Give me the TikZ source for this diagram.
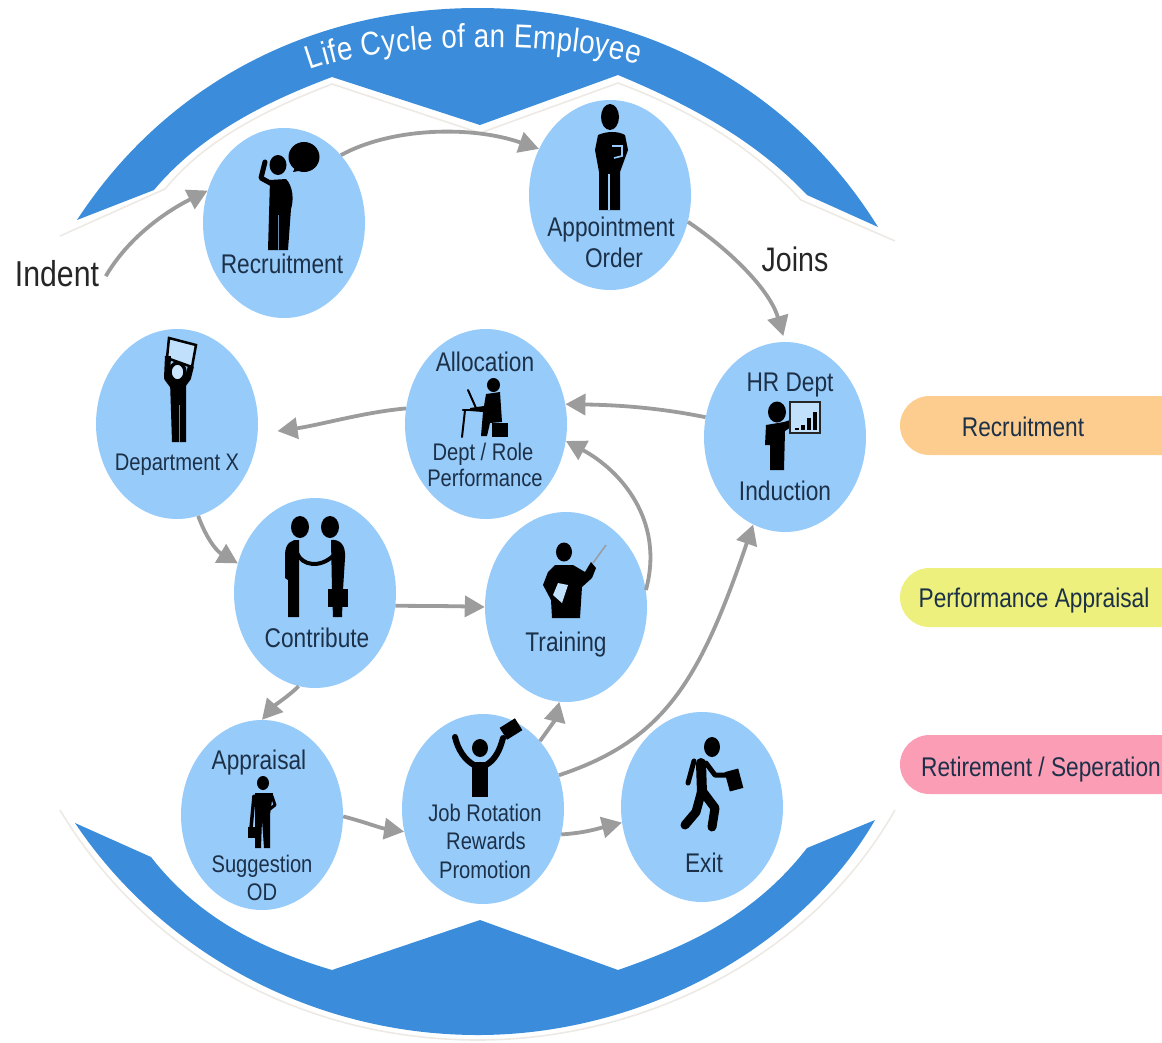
\documentclass[tikz,border=0pt]{standalone}
\usepackage{fontspec}
\setmainfont[FakeStretch=0.84]{Liberation Sans}
\usetikzlibrary{shapes.geometric,shapes.misc,arrows.meta,decorations.text}
\definecolor{arcblue}{HTML}{3B8DDC}
\definecolor{bubble}{HTML}{97CBFA}
\definecolor{ink}{HTML}{1C3048}
\definecolor{arrowgray}{HTML}{9C9C9C}
\definecolor{paleline}{HTML}{EDE9E4}
\definecolor{pillorange}{HTML}{FCCD8E}
\definecolor{pillyellow}{HTML}{EDF07C}
\definecolor{pillpink}{HTML}{FC9DB6}
\newcommand{\titlestyle}{\fontsize{33}{33}\selectfont\color{white}}
\tikzset{
  stage/.style={ellipse,fill=bubble,draw=none,minimum width=162pt,minimum height=190pt,inner sep=0pt},
  conn/.style={draw=arrowgray,line width=3.8pt,-{Triangle[length=20pt,width=21pt]}},
  lbl/.style={text=ink,inner sep=0pt,text height=19.4pt,text depth=0pt,font=\fontsize{27}{27}\selectfont},
  lblsmall/.style={text=ink,inner sep=0pt,text height=17.3pt,text depth=0pt,font=\fontsize{24}{24}\selectfont},
  big/.style={text=black!85,inner sep=0pt,font=\fontsize{34}{34}\selectfont},
  pill/.style={rounded rectangle,rounded rectangle right arc=none,draw=none,minimum width=262pt,minimum height=59pt,inner sep=0pt},
  solid/.style={fill=black,draw=none},
  limb/.style={draw=black,line cap=round,line join=round,line width=#1},
  limb/.default=6pt,
  band/.style={fill=arcblue,draw=none},
  edge line/.style={draw=paleline,line width=1.6pt}
}
\begin{document}
\begin{tikzpicture}[x=1pt,y=-1pt]
\useasboundingbox (0,0) rectangle (1162,1042);
% top band
\draw[edge line] (60,236) -- (165,189) .. controls (205,140) and (265,110) .. (332,84) -- (480,133) -- (618,83) .. controls (690,110) and (750,145) .. (801,200) -- (895,241);
\fill[band] (77,220) .. controls (165,85) and (310,8) .. (478,8) .. controls (640,8) and (790,85) .. (878,227)
  -- (807,195) .. controls (755,140) and (690,105) .. (618,75) -- (480,125) -- (332,77) .. controls (265,102) and (200,135) .. (154,190) -- cycle;
\path[postaction={decorate},decoration={text along path,text align={fit to path},text={|\titlestyle|Life Cycle of an Employee}}]
  (310,70) .. controls (378,44) and (552,38) .. (638,65);
% bottom band
\draw[edge line] (60,810) .. controls (150,960) and (310,1040) .. (478,1040) .. controls (640,1040) and (810,960) .. (895,810);
\fill[band] (75,823) -- (151,857) .. controls (200,920) and (265,950) .. (332,970) -- (480,920) -- (618,970) .. controls (690,945) and (755,915) .. (807,848) -- (875,820)
  .. controls (800,950) and (640,1035) .. (478,1035) .. controls (310,1035) and (160,950) .. (75,823) -- cycle;
% stages
\node[stage] (rec) at (284,223) {};
\node[stage] (app) at (610,195) {};
\node[stage] (hr) at (785,437) {};
\node[stage] (alloc) at (486,424) {};
\node[stage] (dept) at (177,424) {};
\node[stage] (contrib) at (315,593) {};
\node[stage] (train) at (566,607) {};
\node[stage] (appr) at (262,815) {};
\node[stage] (job) at (483,809) {};
\node[stage] (exit) at (702,807) {};
% free labels
\node[big,font=\fontsize{36}{36}\selectfont] (indent) at (57,274) {Indent};
\node[big] (joins) at (795,259) {Joins};
% connectors
\draw[conn,shorten <=13pt] (indent.south east) .. controls (128,238) and (165,212) .. (rec.157);
\draw[conn] (rec.50) .. controls (390,128) and (470,125) .. (app.147);
\draw[conn,shorten >=6pt] (app.-19) .. controls (730,250) and (770,290) .. (hr.north);
\draw[conn] (hr.166) .. controls (660,408) and (620,405) .. (alloc.14);
\draw[conn,shorten >=20pt] (alloc.169) .. controls (365,412) and (320,425) .. (dept.-7);
\draw[conn] (dept.-77) .. controls (205,535) and (215,550) .. (contrib.159);
\draw[conn] (contrib.-9) .. controls (425,606) and (450,606) .. (train.180);
\draw[conn] (contrib.-100) .. controls (290,695) and (275,705) .. (appr.north);
\draw[conn] (train.12) .. controls (665,520) and (620,470) .. (alloc.-12);
\draw[conn] (appr.-1) .. controls (365,822) and (380,828) .. (job.196);
\draw[conn] (job.50) .. controls (548,730) and (555,720) .. (train.-94);
\draw[conn] (job.24) .. controls (665,740) and (700,680) .. (hr.-110);
\draw[conn] (job.-18) .. controls (585,833) and (600,828) .. (exit.191);
% icon: recruitment
\fill[solid] (278,165) ellipse (8.5pt and 10pt);
\fill[solid] (304,157) ellipse (15.5pt and 15pt);
\fill[solid] (293,172) -- (297,163) -- (304,170) -- cycle;
\draw[limb=5pt] (265,162) -- (261,178) -- (272,184);
\fill[solid] (270,180) -- (286,179) .. controls (293,186) and (294,200) .. (291,209) -- (288,250) -- (268,250) -- cycle;
\draw[bubble!70!black,line width=1pt] (278,215) -- (278,250);
% icon: appointment
\fill[solid] (610,117) ellipse (9pt and 13pt);
\fill[solid] (598,135) .. controls (607,131) and (618,131) .. (625,135) -- (628,150) -- (620,172) -- (620,210) -- (599,210) -- (599,172) -- (595,150) -- cycle;
\draw[bubble,line width=1.6pt] (609,174) -- (609,210);
\draw[bubble,line width=1.6pt] (612,146) -- (622,146) -- (622,156) -- (614,158);
% icon: HR
\fill[solid] (777,412) ellipse (9pt and 10.5pt);
\fill[solid] (766,425) -- (784,422) -- (796,418) -- (797,423) -- (785,431) -- (784,470) -- (770,470) -- (770,445) -- (765,445) -- cycle;
\draw[line width=2.5pt,draw=black!85,fill=bubble!60] (790,402) rectangle (820,433);
\foreach \bx/\by in {797/428,803/425,809/418,815/412}{\fill[solid] (\bx-2,\by) rectangle (\bx+2,430);}
% icon: allocation
\fill[solid] (493.5,385) ellipse (6.5pt and 7pt);
\fill[solid] (486,394) -- (500,392) -- (502,422) -- (490,423) -- (487,436) -- (481,436) -- (483,412) -- (470,411) -- (470,408) -- (484,406) -- cycle;
\fill[solid] (492,423) rectangle (508,437);
\draw[limb=2pt] (468,390) -- (476,408);
\draw[limb=2.5pt] (463,410) -- (490,410);
\draw[limb=2pt] (465,410) -- (462,437);
% icon: department
\draw[line width=2.5pt,draw=black,fill=bubble!60] (169,338) -- (196,345) -- (192,367) -- (167,358) -- cycle;
\draw[limb=6pt,line cap=butt] (168,356) -- (167,378) -- (173,386);
\draw[limb=6pt,line cap=butt] (191,366) -- (188,378) -- (182,386);
\fill[solid] (170,381) -- (186,381) -- (186,442) -- (172,442) -- cycle;
\draw[line width=3.5pt,draw=black,fill=bubble!50] (177.5,372) ellipse (7.5pt and 9pt);
\draw[bubble!70!black,line width=1pt] (179,405) -- (179,442);
% icon: handshake
\fill[solid] (300,527) ellipse (9pt and 11pt);
\fill[solid] (330,527) ellipse (9pt and 11pt);
\fill[solid] (285,555) .. controls (285,543) and (292,539) .. (299,540) -- (299,617) -- (288,617) -- (288,580) -- (285,578) -- cycle;
\fill[solid] (331,540) .. controls (340,539) and (346,545) .. (345,558) -- (343,590) -- (342,617) -- (333,617) -- (332,590) -- cycle;
\draw[limb=4pt] (297,553) .. controls (302,566) and (320,568) .. (333,556);
\fill[solid] (327.5,589) rectangle (348,607);
% icon: training
\fill[solid] (564,552) ellipse (8pt and 9.5pt);
\draw[draw=arrowgray,line width=1.5pt] (593,563) -- (606,545);
\fill[solid] (555,565) -- (573,565) -- (585,572) -- (591,562) -- (596,568) -- (592,578) -- (582,587) -- (580,618) -- (552,618) -- (551,600) -- (543,585) -- (548,572) -- cycle;
\fill[bubble!60] (558,583) -- (568,585) -- (562,603) -- (553,595) -- cycle;
% icon: appraisal
\fill[solid] (263,783) ellipse (6pt and 7pt);
\fill[solid] (255,793) -- (273,793) -- (270,815) -- (270,848) -- (264,848) -- (262,820) -- (261,848) -- (255,848) -- cycle;
\draw[limb=3.5pt] (254,796) -- (251,828);
\draw[limb=3pt] (272,796) -- (275,805) -- (270,809);
\fill[solid] (248,827) rectangle (254.5,838);
% icon: job rotation
\fill[solid] (480,748) ellipse (8pt and 9pt);
\draw[limb=6pt] (455,737) .. controls (458,750) and (465,760) .. (474,765);
\draw[limb=6pt] (503,738) .. controls (500,750) and (495,760) .. (486,765);
\fill[solid] (472,762) rectangle (488,797);
\fill[solid,rotate around={32:(511,729)}] (502,722) rectangle (520,736);
% icon: exit
\fill[solid] (712,747) ellipse (8pt and 10pt);
\draw[limb=10pt] (701,763) -- (702,793);
\draw[limb=5pt] (694,761) -- (688,783);
\draw[limb=5pt] (706,763) -- (715,775) -- (727,775);
\draw[limb=9pt] (702,790) -- (696,812) -- (685,825);
\draw[limb=9pt] (703,792) -- (715,808) -- (712,827);
\fill[solid,rotate around={15:(734,780)}] (727,770) rectangle (741,790);
% stage labels
\node[lbl] (t1) at (282,264) {Recruitment};
\node[lbl] (t2) at (611,227) {Appointment};
\node[lbl] (t3) at (614,258) {Order};
\node[lbl] (t4) at (790,382) {HR Dept};
\node[lbl] (t5) at (785,491) {Induction};
\node[lbl] (t6) at (485,362) {Allocation};
\node[lblsmall] (t7) at (483,452) {Dept / Role};
\node[lblsmall] (t8) at (485,478) {Performance};
\node[lblsmall] (t9) at (177,462) {Department X};
\node[lbl] (t10) at (317,638) {Contribute};
\node[lbl] (t11) at (566,642) {Training};
\node[lbl] (t12) at (259,760) {Appraisal};
\node[lblsmall] (t13) at (262,864) {Suggestion};
\node[lblsmall] (t14) at (262,892) {OD};
\node[lblsmall] (t15) at (485,813) {Job Rotation};
\node[lblsmall] (t16) at (486,841) {Rewards};
\node[lblsmall] (t17) at (485,870) {Promotion};
\node[lbl] (t18) at (704,863) {Exit};
% legend
\node[pill,fill=pillorange] (p1) at (1031,425.5) {};
\node[pill,fill=pillyellow] (p2) at (1031,597.5) {};
\node[pill,fill=pillpink] (p3) at (1031,764.5) {};
\node[lbl] (l1) at (1023,427) {Recruitment};
\node[lbl] (l2) at (1034,598) {Performance Appraisal};
\node[lbl] (l3) at (1041,767) {Retirement / Seperation};
\end{tikzpicture}
\end{document}
